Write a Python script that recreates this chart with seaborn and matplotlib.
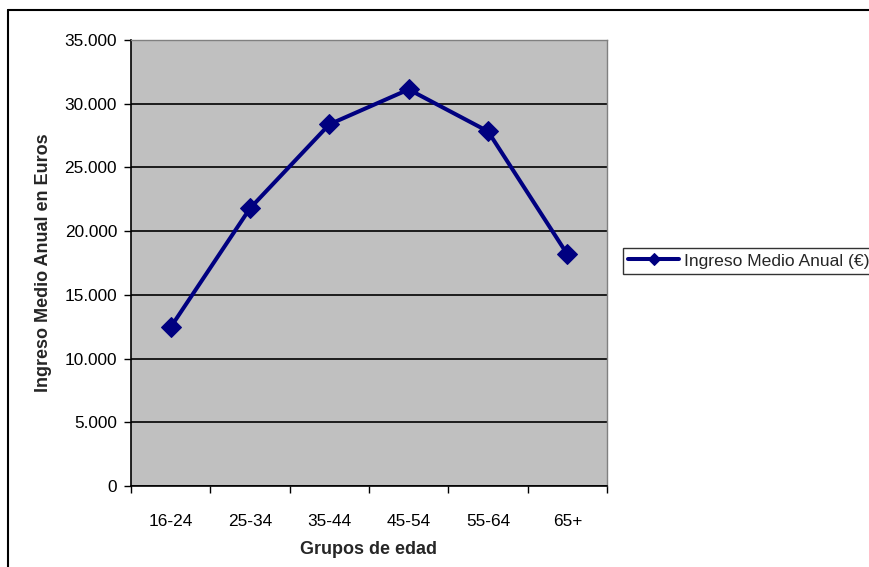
#!/usr/bin/env python3

import pandas as pd
import seaborn as sns
from matplotlib import pyplot as plt
from matplotlib.lines import Line2D
from matplotlib.ticker import FuncFormatter, FixedLocator

age_groups = ["16-24", "25-34", "35-44", "45-54", "55-64", "65+"]
income = [12460, 21790, 28380, 31120, 27830, 18180]
series_name = "Ingreso Medio Anual (€)"
y_ticks = [0, 5000, 10000, 15000, 20000, 25000, 30000, 35000]


def thousands(v, pos):
    return f"{int(v):,}".replace(",", ".")


def plot():
    sns.set_theme(style="white")
    plt.rcParams["font.family"] = ["Liberation Sans", "DejaVu Sans"]

    df = pd.DataFrame({"Grupo": age_groups, "Ingreso": income, "Serie": series_name})

    fig = plt.figure(figsize=(8.7, 5.67), dpi=100)
    ax = fig.add_axes([131 / 870, 81 / 567, 476 / 870, 446 / 567])
    ax.set_facecolor("#c0c0c0")

    sns.lineplot(df, x="Grupo", y="Ingreso", hue="Serie", palette=["#000080"], sort=False,
                 marker="D", markersize=10, linewidth=2.9, markeredgecolor="#000080", ax=ax)

    ax.set_ylim(0, 35000)
    ax.set_xlim(-0.5, len(age_groups) - 0.5)
    ax.yaxis.set_major_locator(FixedLocator(y_ticks))
    ax.yaxis.set_major_formatter(FuncFormatter(thousands))
    ax.grid(axis="y", color="black", linewidth=1.2)
    ax.set_axisbelow(True)

    ax.set_xticks(range(len(age_groups)))
    ax.set_xticklabels(age_groups)
    ax.set_xticks([i - 0.5 for i in range(len(age_groups) + 1)], minor=True)
    ax.tick_params(axis="x", which="major", length=0, pad=20, labelsize=12.4, colors="black")
    ax.tick_params(axis="x", which="minor", length=5, width=1, color="black", direction="out",
                   bottom=True)
    ax.tick_params(axis="y", length=5, width=1, color="black", direction="out", left=True,
                   labelsize=12.4, pad=5, colors="black")

    for side in ["left", "bottom"]:
        ax.spines[side].set_color("black")
        ax.spines[side].set_linewidth(1.2)
    for side in ["top", "right"]:
        ax.spines[side].set_color("#808080")
        ax.spines[side].set_linewidth(1)

    ax.set_xlabel("Grupos de edad", fontweight="bold", fontsize=13, labelpad=9)
    ax.set_ylabel("Ingreso Medio Anual en Euros", fontweight="bold", fontsize=13, labelpad=9)

    ax.legend(loc="center left", bbox_to_anchor=(623 / 870, 1 - 261 / 567),
              bbox_transform=fig.transFigure, frameon=True, fancybox=False, edgecolor="black",
              fontsize=12.6, handlelength=2.9, borderpad=0.3, handletextpad=0.3,
              borderaxespad=0, title=None)
    leg = ax.get_legend()
    leg.get_frame().set_linewidth(1)
    leg.legend_handles[0].set_markersize(6.5)

    # outer chart frame (top and left edges visible)
    fig.add_artist(Line2D([8 / 870, 1], [1 - 10 / 567, 1 - 10 / 567], color="black", linewidth=1.5))
    fig.add_artist(Line2D([8 / 870, 8 / 870], [0, 1 - 10 / 567], color="black", linewidth=1.5))

    plt.savefig("out.png", dpi=100)
    plt.close()


def main():
    plot()


if __name__ == '__main__':
    main()
